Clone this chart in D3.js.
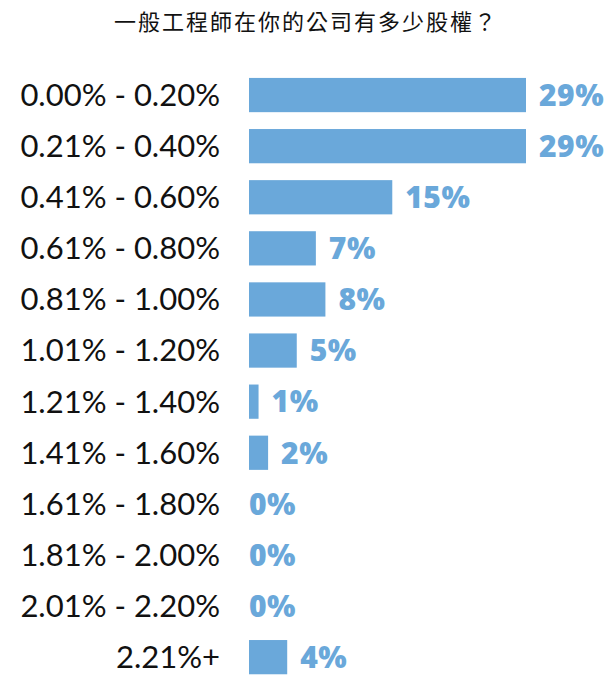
<!DOCTYPE html>
<html>
<head>
<meta charset="utf-8">
<script src="https://cdn.jsdelivr.net/npm/d3@7"></script>
<style>
  body { margin: 0; background: #fff; }
</style>
</head>
<body>
<div id="chart"></div>
<script>
const categories = ["0.00% - 0.20%", "0.21% - 0.40%", "0.41% - 0.60%", "0.61% - 0.80%",
  "0.81% - 1.00%", "1.01% - 1.20%", "1.21% - 1.40%", "1.41% - 1.60%",
  "1.61% - 1.80%", "1.81% - 2.00%", "2.01% - 2.20%", "2.21%+"];
const values = [29, 29, 15, 7, 8, 5, 1, 2, 0, 0, 0, 4];
const title = "一般工程師在你的公司有多少股權？";

const WIDTH = 615, HEIGHT = 676;
const MARGIN = { LEFT: 249, TOP: 69.5 };
const BAR_COLOR = "#6aa8da";

const svg = d3.select("#chart").append("svg")
  .attr("width", WIDTH)
  .attr("height", HEIGHT);

svg.append("text")
  .attr("x", 306)
  .attr("y", 30)
  .attr("text-anchor", "middle")
  .attr("font-family", "'Noto Sans CJK TC', sans-serif")
  .attr("font-size", "22px")
  .attr("letter-spacing", "2px")
  .attr("fill", "#111")
  .text(title);

const g = svg.append("g")
  .attr("transform", `translate(${MARGIN.LEFT}, ${MARGIN.TOP})`);

// Scales
const y = d3.scaleBand()
  .domain(categories)
  .range([0, categories.length * 51.1])
  .paddingInner(0.33)
  .paddingOuter(0.165);

const x = d3.scaleLinear()
  .domain([0, 29])
  .range([0, 277]);

// Category labels
const yAxis = d3.axisLeft(y).tickSize(0).tickPadding(29);
g.append("g")
  .attr("class", "y axis")
  .call(yAxis)
  .call(sel => sel.select(".domain").remove())
  .selectAll("text")
  .attr("font-family", "Lato, 'Open Sans', sans-serif")
  .attr("font-size", "31px")
  .attr("fill", "#111")
  .attr("dy", "0.35em");

// Bars
g.selectAll("rect")
  .data(values)
  .enter().append("rect")
  .attr("x", 0)
  .attr("y", (d, i) => y(categories[i]))
  .attr("width", d => x(d))
  .attr("height", y.bandwidth())
  .attr("fill", BAR_COLOR);

// Value labels
g.selectAll(".value")
  .data(values)
  .enter().append("text")
  .attr("class", "value")
  .attr("x", d => x(d) + (d > 0 ? 13 : 0))
  .attr("y", (d, i) => y(categories[i]) + y.bandwidth() / 2)
  .attr("dy", "0.36em")
  .attr("font-family", "'Open Sans', sans-serif")
  .attr("font-weight", 800)
  .attr("font-size", "30px")
  .attr("letter-spacing", "0.5px")
  .attr("fill", BAR_COLOR)
  .text(d => d + "%");
</script>
</body>
</html>
